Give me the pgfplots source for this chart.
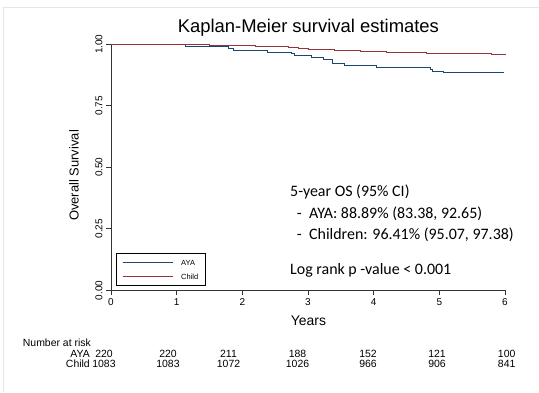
\documentclass[border=0pt]{standalone}
\usepackage{fontspec}
\setmainfont{Liberation Sans}
\newfontfamily\annfont{Carlito}
\usepackage{pgfplots}
\pgfplotsset{compat=1.18}
\definecolor{stnavy}{RGB}{26,71,111}
\definecolor{stmaroon}{RGB}{144,53,59}
\definecolor{frameblue}{RGB}{222,232,238}
\begin{document}
\begin{tikzpicture}[x=1bp,y=1bp]
\path[use as bounding box] (0,0) rectangle (539,392);
\fill[white] (0,0) rectangle (539,392);
\draw[frameblue, line width=1bp] (3,0) -- (3,384) -- (539,384);
\begin{axis}[
  at={(111bp,101.7bp)}, anchor=south west,
  scale only axis, width=394bp, height=246bp,
  xmin=0, xmax=6, ymin=0, ymax=1,
  axis lines*=left,
  axis line style={black!80, line width=0.8bp},
  tick align=outside, major tick length=5bp,
  tick style={black!80, line width=0.8bp},
  xtick={0,1,2,3,4,5,6},
  ytick={0,0.25,0.5,0.75,1},
  /pgf/number format/assume math mode=true,
  yticklabel={\pgfmathprintnumber[fixed,fixed zerofill,precision=2]{\tick}},
  yticklabel style={rotate=90, anchor=south, font=\fontsize{10}{11}\selectfont},
  xticklabel style={font=\fontsize{10}{11}\selectfont},
  title={Kaplan-Meier survival estimates},
  title style={at={(axis description cs:0.501,1.0256)}, anchor=base, font=\fontsize{18.5}{20}\selectfont},
  xlabel={Years},
  xlabel style={at={(axis description cs:0.501,-0.145)}, anchor=base, font=\fontsize{14}{15}\selectfont},
  ylabel={Overall Survival},
  ylabel style={at={(axis description cs:-0.094,0.467)}, anchor=center, rotate=0, font=\fontsize{13}{14}\selectfont},
  clip=false,
  legend cell align=left,
  legend image code/.code={\draw[#1] (0bp,0bp) -- (50bp,0bp);},
  legend style={at={(axis cs:0.076,0.0175)}, anchor=south west, draw=black, line width=0.6bp,
    font=\fontsize{7.5}{9}\selectfont, inner xsep=6bp, inner ysep=6bp,
    row sep=8bp,
    nodes={inner sep=0pt, text height=5.5bp, text depth=0.5bp, text width=18bp},
    /tikz/every odd column/.append style={column sep=8bp}},
]
\addplot[const plot, stnavy, line width=0.9bp] coordinates {
(0,1) (1.13,0.990) (1.79,0.982) (1.86,0.977) (2.24,0.973) (2.39,0.967)
(2.75,0.962) (2.80,0.955) (3.06,0.948) (3.23,0.937) (3.37,0.921) (3.56,0.916)
(4.04,0.904) (4.86,0.897) (4.90,0.890) (5.06,0.884) (5.98,0.884)};
\addlegendentry{AYA}
\addplot[const plot, stmaroon, line width=0.9bp] coordinates {
(0,1) (1.2,0.998) (1.5,0.997) (1.8,0.996) (2.0,0.994) (2.2,0.992) (2.5,0.990)
(2.7,0.988) (2.85,0.984) (3.0,0.981) (3.2,0.978) (3.4,0.976) (3.6,0.974)
(3.8,0.972) (4.0,0.970) (4.2,0.968) (4.45,0.966) (4.8,0.964) (5.2,0.962)
(5.5,0.961) (5.8,0.960) (6.0,0.959)};
\addlegendentry{Child}
\end{axis}
% annotations
\begin{scope}[every node/.style={anchor=base west, inner sep=0pt, font=\annfont\fontsize{16}{18}\selectfont}]
\node at (290,{392-196.7}) {5-year OS (95\% CI)};
\node at (296.7,{392-218.7}) {-};
\node at (309,{392-218.7}) {AYA: 88.89\% (83.38, 92.65)};
\node at (296.7,{392-239.7}) {-};
\node at (309,{392-239.7}) {Children: 96.41\% (95.07, 97.38)};
\node at (290,{392-274.7}) {Log rank p -value < 0.001};
\end{scope}
% number at risk table
\begin{scope}[every node/.style={inner sep=0pt, font=\fontsize{10.5}{12}\selectfont}]
\node[anchor=base west] at (22.7,{392-346}) {Number at risk};
\node[anchor=base east] at (90,{392-357.5}) {AYA};
\node[anchor=base east] at (90,{392-367}) {Child};
\foreach \xx/\a/\c in {104/220/1083, 168/220/1083, 228.5/211/1072, 297.5/188/1026, 368/152/966, 437/121/906, 506.7/100/841} {
  \node[anchor=base] at (\xx,{392-357.5}) {\a};
  \node[anchor=base] at (\xx,{392-367}) {\c};
}
\end{scope}
\end{tikzpicture}
\end{document}
